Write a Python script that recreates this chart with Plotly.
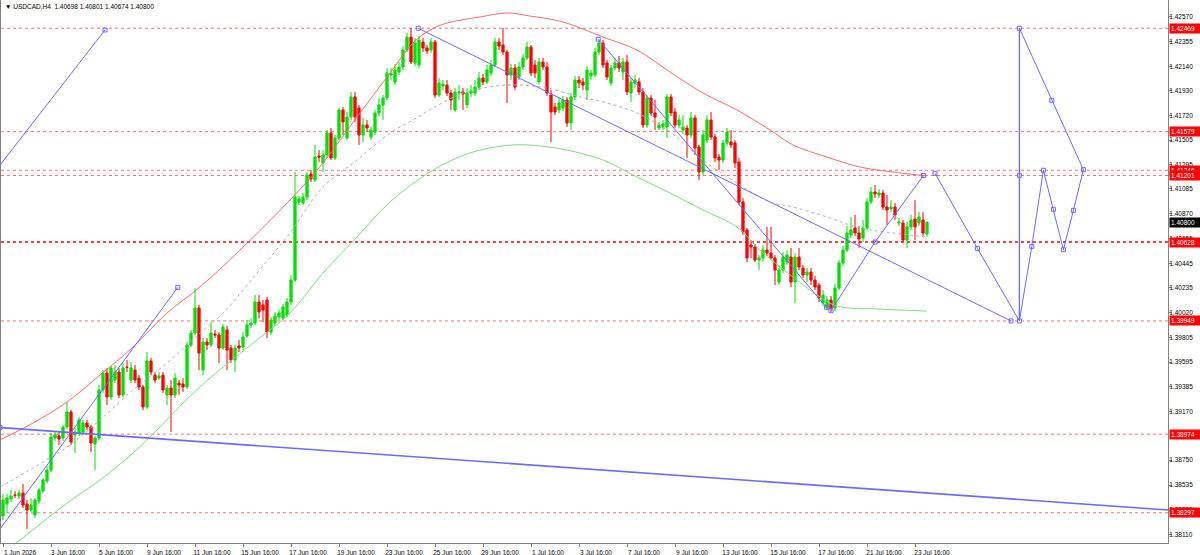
import plotly.graph_objects as go

# ---------------- data ----------------
bars = list(range(4, 236))  # H4 bar index, bar 0 = 1 Jun 2026 00:00

opens = [
    1.38269, 1.38373, 1.38416, 1.38450, 1.38441, 1.38467, 1.38373, 1.38321, 1.38278, 1.38398,
    1.38484, 1.38571, 1.38665, 1.38941, 1.38958, 1.38941, 1.39036, 1.39165, 1.38967, 1.38984,
    1.38992, 1.39070, 1.39036, 1.38889, 1.38941, 1.39354, 1.39500, 1.39294, 1.39440, 1.39509,
    1.39311, 1.39552, 1.39440, 1.39526, 1.39457, 1.39380, 1.39208, 1.39604, 1.39483, 1.39457,
    1.39483, 1.39311, 1.39371, 1.39311, 1.39414, 1.39406, 1.39380, 1.39742, 1.39845, 1.40060,
    1.39526, 1.39767, 1.39742, 1.39836, 1.39828, 1.39716, 1.39871, 1.39716, 1.39612, 1.39733,
    1.39724, 1.39819, 1.39914, 1.39931, 1.40112, 1.40086, 1.40129, 1.39853, 1.39931, 1.39983,
    1.39974, 1.40000, 1.40112, 1.40301, 1.40973, 1.40964, 1.41016, 1.41214, 1.41162, 1.41369,
    1.41309, 1.41377, 1.41567, 1.41352, 1.41524, 1.41765, 1.41524, 1.41705, 1.41877, 1.41782,
    1.41550, 1.41636, 1.41532, 1.41575, 1.41739, 1.41808, 1.41868, 1.42066, 1.42006, 1.42092,
    1.42135, 1.42281, 1.42393, 1.42170, 1.42152, 1.42350, 1.42299, 1.42281, 1.42350, 1.41894,
    1.41972, 1.41980, 1.41911, 1.41765, 1.41911, 1.41920, 1.41808, 1.41911, 1.41911, 1.41963,
    1.42040, 1.42006, 1.42083, 1.42152, 1.42350, 1.42325, 1.42264, 1.42066, 1.42127, 1.42049,
    1.42135, 1.42213, 1.42307, 1.42152, 1.42006, 1.42178, 1.42135, 1.41894, 1.41791, 1.41765,
    1.41782, 1.41851, 1.41653, 1.41877, 1.42023, 1.42006, 1.41937, 1.42058, 1.42066, 1.42264,
    1.42342, 1.42170, 1.41997, 1.42127, 1.42170, 1.42092, 1.42178, 1.41911, 1.41997, 1.42006,
    1.41920, 1.41636, 1.41868, 1.41739, 1.41610, 1.41619, 1.41619, 1.41877, 1.41748, 1.41636,
    1.41593, 1.41610, 1.41550, 1.41696, 1.41446, 1.41231, 1.41507, 1.41679, 1.41532, 1.41360,
    1.41334, 1.41481, 1.41489, 1.41481, 1.41317, 1.40973, 1.40732, 1.40603, 1.40585, 1.40473,
    1.40491, 1.40559, 1.40534, 1.40491, 1.40284, 1.40387, 1.40456, 1.40499, 1.40284, 1.40499,
    1.40405, 1.40344, 1.40370, 1.40301, 1.40258, 1.40103, 1.40060, 1.40129, 1.40060, 1.40232,
    1.40448, 1.40559, 1.40689, 1.40749, 1.40706, 1.40663, 1.40749, 1.40973, 1.41059, 1.41033,
    1.41050, 1.40930, 1.40913, 1.40930, 1.40792, 1.40792, 1.40646, 1.40758, 1.40826, 1.40792,
    1.40818, 1.40698,
]
highs = [
    1.38459, 1.38459, 1.38493, 1.38484, 1.38493, 1.38545, 1.38407, 1.38424, 1.38424, 1.38510,
    1.38596, 1.38700, 1.38984, 1.38992, 1.38992, 1.39053, 1.39251, 1.39182, 1.39027, 1.39122,
    1.39096, 1.39096, 1.39053, 1.38958, 1.39397, 1.39526, 1.39544, 1.39561, 1.39569, 1.39544,
    1.39595, 1.39612, 1.39595, 1.39569, 1.39483, 1.39397, 1.39681, 1.39630, 1.39509, 1.39509,
    1.39509, 1.39397, 1.39440, 1.39500, 1.39440, 1.39457, 1.39767, 1.39871, 1.40232, 1.40086,
    1.39802, 1.39802, 1.39940, 1.39871, 1.39853, 1.39922, 1.39905, 1.39742, 1.39742, 1.39785,
    1.39853, 1.39957, 1.39974, 1.40172, 1.40172, 1.40129, 1.40155, 1.39983, 1.40026, 1.40043,
    1.40095, 1.40146, 1.40344, 1.41231, 1.41024, 1.41050, 1.41231, 1.41248, 1.41464, 1.41420,
    1.41420, 1.41593, 1.41610, 1.41550, 1.41782, 1.41791, 1.41748, 1.41920, 1.41920, 1.41808,
    1.41696, 1.41679, 1.41619, 1.41765, 1.41868, 1.41894, 1.42127, 1.42127, 1.42161, 1.42178,
    1.42316, 1.42428, 1.42471, 1.42385, 1.42402, 1.42385, 1.42325, 1.42385, 1.42368, 1.42040,
    1.42023, 1.42023, 1.41937, 1.41954, 1.41980, 1.41954, 1.41954, 1.41980, 1.42023, 1.42092,
    1.42075, 1.42152, 1.42195, 1.42385, 1.42385, 1.42471, 1.42281, 1.42161, 1.42161, 1.42178,
    1.42247, 1.42350, 1.42325, 1.42195, 1.42213, 1.42213, 1.42178, 1.41937, 1.41825, 1.41868,
    1.41885, 1.41877, 1.41911, 1.42058, 1.42058, 1.42040, 1.42144, 1.42109, 1.42299, 1.42368,
    1.42368, 1.42195, 1.42152, 1.42213, 1.42230, 1.42213, 1.42238, 1.42040, 1.42066, 1.42040,
    1.41954, 1.41894, 1.41894, 1.41851, 1.41662, 1.41679, 1.41903, 1.41903, 1.41782, 1.41722,
    1.41722, 1.41636, 1.41748, 1.41722, 1.41464, 1.41593, 1.41722, 1.41748, 1.41558, 1.41386,
    1.41507, 1.41610, 1.41593, 1.41507, 1.41352, 1.41007, 1.40749, 1.40646, 1.40611, 1.40516,
    1.40603, 1.40758, 1.40758, 1.40516, 1.40430, 1.40542, 1.40559, 1.40577, 1.40534, 1.40577,
    1.40430, 1.40405, 1.40405, 1.40336, 1.40275, 1.40215, 1.40163, 1.40163, 1.40267, 1.40473,
    1.40594, 1.40766, 1.40844, 1.40861, 1.40766, 1.40818, 1.41007, 1.41102, 1.41119, 1.41085,
    1.41076, 1.41033, 1.40990, 1.40964, 1.40835, 1.40818, 1.40801, 1.40861, 1.40990, 1.40887,
    1.40887, 1.40801,
]
lows = [
    1.38235, 1.38295, 1.38390, 1.38424, 1.38416, 1.38338, 1.38157, 1.38304, 1.38252, 1.38373,
    1.38467, 1.38553, 1.38648, 1.38915, 1.38881, 1.38915, 1.39018, 1.38881, 1.38812, 1.38958,
    1.38967, 1.39010, 1.38820, 1.38665, 1.38924, 1.39328, 1.39225, 1.39268, 1.39414, 1.39285,
    1.39294, 1.39509, 1.39414, 1.39414, 1.39354, 1.39182, 1.39191, 1.39483, 1.39414, 1.39440,
    1.39328, 1.39225, 1.38992, 1.39285, 1.39311, 1.39337, 1.39363, 1.39724, 1.39828, 1.39526,
    1.39483, 1.39698, 1.39724, 1.39802, 1.39587, 1.39698, 1.39526, 1.39587, 1.39509, 1.39681,
    1.39698, 1.39802, 1.39888, 1.39914, 1.39974, 1.39940, 1.39802, 1.39828, 1.39905, 1.39957,
    1.39957, 1.39983, 1.40086, 1.40284, 1.40947, 1.40947, 1.40990, 1.41145, 1.41145, 1.41317,
    1.41231, 1.41352, 1.41334, 1.41334, 1.41507, 1.41550, 1.41507, 1.41679, 1.41662, 1.41464,
    1.41489, 1.41575, 1.41507, 1.41550, 1.41713, 1.41679, 1.41851, 1.42023, 1.41980, 1.42066,
    1.42109, 1.42264, 1.42161, 1.42144, 1.42127, 1.42264, 1.42247, 1.42256, 1.41868, 1.41877,
    1.41937, 1.41885, 1.41765, 1.41748, 1.41851, 1.41765, 1.41782, 1.41877, 1.41885, 1.41937,
    1.41980, 1.41989, 1.42058, 1.42135, 1.42281, 1.42238, 1.41825, 1.42023, 1.41937, 1.42023,
    1.42109, 1.42195, 1.42058, 1.42040, 1.41989, 1.42109, 1.41885, 1.41489, 1.41722, 1.41739,
    1.41756, 1.41619, 1.41593, 1.41851, 1.41954, 1.41937, 1.41851, 1.42023, 1.42049, 1.42238,
    1.42127, 1.42023, 1.41972, 1.42109, 1.42092, 1.42023, 1.41894, 1.41834, 1.41954, 1.41894,
    1.41610, 1.41610, 1.41713, 1.41593, 1.41593, 1.41593, 1.41524, 1.41713, 1.41610, 1.41610,
    1.41558, 1.41352, 1.41524, 1.41377, 1.41162, 1.41205, 1.41481, 1.41507, 1.41317, 1.41248,
    1.41309, 1.41455, 1.41438, 1.41266, 1.40947, 1.40689, 1.40456, 1.40491, 1.40456, 1.40387,
    1.40456, 1.40508, 1.40473, 1.40258, 1.40258, 1.40361, 1.40430, 1.40241, 1.40103, 1.40387,
    1.40318, 1.40284, 1.40258, 1.40215, 1.40112, 1.40077, 1.40043, 1.40026, 1.40034, 1.40215,
    1.40422, 1.40542, 1.40663, 1.40680, 1.40577, 1.40628, 1.40732, 1.40956, 1.41007, 1.41007,
    1.40904, 1.40775, 1.40887, 1.40818, 1.40766, 1.40628, 1.40577, 1.40732, 1.40646, 1.40766,
    1.40680, 1.40674,
]
closes = [
    1.38407, 1.38424, 1.38441, 1.38448, 1.38467, 1.38364, 1.38321, 1.38364, 1.38407, 1.38493,
    1.38579, 1.38665, 1.38949, 1.38967, 1.38932, 1.39036, 1.39165, 1.38906, 1.38992, 1.39096,
    1.39070, 1.39036, 1.38898, 1.38941, 1.39354, 1.39500, 1.39294, 1.39544, 1.39509, 1.39311,
    1.39544, 1.39550, 1.39544, 1.39440, 1.39380, 1.39208, 1.39604, 1.39509, 1.39440, 1.39475,
    1.39354, 1.39371, 1.39311, 1.39457, 1.39397, 1.39380, 1.39742, 1.39845, 1.40060, 1.39673,
    1.39767, 1.39742, 1.39845, 1.39828, 1.39716, 1.39897, 1.39698, 1.39612, 1.39716, 1.39716,
    1.39810, 1.39914, 1.39931, 1.40112, 1.40026, 1.40043, 1.39853, 1.39957, 1.39991, 1.40017,
    1.40069, 1.40112, 1.40301, 1.41016, 1.40999, 1.41016, 1.41205, 1.41171, 1.41360, 1.41358,
    1.41377, 1.41567, 1.41352, 1.41524, 1.41765, 1.41662, 1.41705, 1.41877, 1.41705, 1.41550,
    1.41636, 1.41610, 1.41593, 1.41739, 1.41808, 1.41868, 1.42083, 1.42080, 1.42109, 1.42135,
    1.42281, 1.42393, 1.42178, 1.42342, 1.42368, 1.42299, 1.42273, 1.42350, 1.41894, 1.41997,
    1.41989, 1.41911, 1.41851, 1.41920, 1.41918, 1.41903, 1.41911, 1.41928, 1.41963, 1.42040,
    1.42006, 1.42109, 1.42152, 1.42350, 1.42316, 1.42264, 1.42066, 1.42127, 1.41963, 1.42135,
    1.42213, 1.42307, 1.42083, 1.42083, 1.42178, 1.42135, 1.41911, 1.41748, 1.41748, 1.41825,
    1.41851, 1.41653, 1.41877, 1.42023, 1.41997, 1.41980, 1.42109, 1.42083, 1.42264, 1.42342,
    1.42152, 1.42049, 1.42127, 1.42170, 1.42127, 1.42178, 1.41920, 1.42006, 1.42023, 1.41920,
    1.41636, 1.41868, 1.41739, 1.41705, 1.41636, 1.41644, 1.41877, 1.41739, 1.41636, 1.41679,
    1.41619, 1.41550, 1.41696, 1.41438, 1.41231, 1.41550, 1.41679, 1.41532, 1.41352, 1.41334,
    1.41481, 1.41575, 1.41464, 1.41309, 1.40973, 1.40714, 1.40491, 1.40585, 1.40473, 1.40491,
    1.40559, 1.40534, 1.40491, 1.40387, 1.40387, 1.40499, 1.40516, 1.40284, 1.40499, 1.40413,
    1.40344, 1.40370, 1.40301, 1.40241, 1.40146, 1.40172, 1.40129, 1.40060, 1.40232, 1.40448,
    1.40559, 1.40706, 1.40732, 1.40706, 1.40654, 1.40749, 1.40973, 1.41059, 1.41042, 1.41050,
    1.40930, 1.40904, 1.40930, 1.40861, 1.40801, 1.40646, 1.40758, 1.40818, 1.40758, 1.40844,
    1.40706, 1.40800,
]

# band indicator (upper / middle / lower), read at sample bars
band_bars = [3.25, 11.5, 20, 28.25, 36.5, 45, 53.25, 63.25, 75.75, 84, 92.5, 100.75,
             106.5, 110.75, 115, 123.25, 130, 135.75, 144, 154, 162.5, 170.75, 179,
             187.5, 195.75, 201.5, 210, 218.25, 226.5, 235]
upper_band = [1.38924, 1.39070, 1.39251, 1.39483, 1.39724, 1.40017, 1.40241, 1.40559,
              1.40990, 1.41309, 1.41705, 1.42083, 1.42342, 1.42454, 1.42514, 1.42566,
              1.42600, 1.42574, 1.42523, 1.42393, 1.42281, 1.42092, 1.41911, 1.41765,
              1.41593, 1.41464, 1.41360, 1.41274, 1.41231, 1.41197]

mid_bars = [3.25, 11.5, 20, 28.25, 36.5, 45, 53.25, 59, 67.5, 75.75, 84, 92.5, 100.75,
            106.5, 111.5, 119, 127.5, 133.25, 140, 148.25, 154, 162.5, 170.75, 179,
            187.5, 195.75, 201.5, 210, 218.25, 226.5, 235]
mid_band = [1.38519, 1.38683, 1.38863, 1.39096, 1.39354, 1.39587, 1.39845, 1.40017,
            1.40361, 1.40706, 1.41102, 1.41334, 1.41567, 1.41679, 1.41782, 1.41911,
            1.41972, 1.41980, 1.41954, 1.41877, 1.41834, 1.41739, 1.41575, 1.41334,
            1.41136, 1.40973, 1.40930, 1.40844, 1.40749, 1.40706, 1.40671]

low_bars = [4, 8.25, 20, 28.25, 36.5, 43.25, 49, 55.75, 67.5, 75.75, 84, 92.5, 100.75,
            110.75, 117.5, 123.25, 131.5, 138.25, 145, 154, 162.5, 170.75, 179, 187.5,
            193.25, 201.5, 208.25, 212.5, 222.5, 235]
lower_band = [1.37960, 1.38063, 1.38381, 1.38579, 1.38812, 1.39036, 1.39242, 1.39457,
              1.39785, 1.40017, 1.40361, 1.40672, 1.40973, 1.41231, 1.41352, 1.41420,
              1.41464, 1.41455, 1.41420, 1.41334, 1.41188, 1.41050, 1.40904, 1.40758,
              1.40559, 1.40327, 1.40155, 1.40077, 1.40052, 1.40034]

# drawn objects (trend lines and projected zigzag)
line_a_bars, line_a_prices = [3.25, 29.5], [1.41291, 1.42454]
line_b_bars, line_b_prices = [3.25, 47.7], [1.38157, 1.40238]
line_c_bars, line_c_prices = [3.25, 295.25], [1.39031, 1.38321]
line_d_bars, line_d_prices = [107.8, 256], [1.42469, 1.39949]
leg_e_bars, leg_e_prices = [152.8, 209.9], [1.42374, 1.40066]
leg_f_bars, leg_f_prices = [211, 222, 234.1], [1.40037, 1.40628, 1.41201]
leg_g_bars, leg_g_prices = [237, 247.6, 258.1], [1.41220, 1.40574, 1.39949]
vert_bars, vert_prices = [258.1, 258.1, 258.1], [1.42469, 1.41203, 1.39949]
upper_leg_bars, upper_leg_prices = [258.1, 266.2, 274.1], [1.42469, 1.41848, 1.41251]
zz_bars = [258.1, 261.2, 264.1, 266.6, 269.1, 271.6, 274.1]
zz_prices = [1.39949, 1.40591, 1.41246, 1.40910, 1.40562, 1.40901, 1.41251]
point_bars = [29.5, 47.7, 3.25, 107.8, 256, 152.8, 209.9, 211, 222, 234.1, 237, 247.6,
              258.1, 258.1, 258.1, 266.2, 274.1, 261.2, 264.1, 266.6, 269.1, 271.6]
point_prices = [1.42454, 1.40238, 1.39031, 1.42469, 1.39949, 1.42374, 1.40066, 1.40037,
                1.40628, 1.41201, 1.41220, 1.40574, 1.39949, 1.42469, 1.41203, 1.41848,
                1.41251, 1.40591, 1.41246, 1.40910, 1.40562, 1.40901]

# horizontal levels
level_prices = [1.42469, 1.41579, 1.41246, 1.41201, 1.40628, 1.39949, 1.38974, 1.38297]
level_labels = ["1.42469", "1.41579", "1.41246", "1.41201", "1.40628", "1.39949", "1.38974", "1.38297"]
main_level = 1.40628
last_price, last_label = 1.40800, "1.40800"

# axes
x_tick_bars = [4, 16, 28, 40, 52, 64, 76, 88, 100, 112, 124, 136, 148, 160, 172, 184, 196, 208, 220, 232]
x_tick_text = ["1 Jun 2026", "3 Jun 16:00", "5 Jun 16:00", "9 Jun 16:00", "11 Jun 16:00",
               "15 Jun 16:00", "17 Jun 16:00", "19 Jun 16:00", "23 Jun 16:00", "25 Jun 16:00",
               "29 Jun 16:00", "1 Jul 16:00", "3 Jul 16:00", "7 Jul 16:00", "9 Jul 16:00",
               "13 Jul 16:00", "15 Jul 16:00", "17 Jul 16:00", "21 Jul 16:00", "23 Jul 16:00"]
y_tick_vals = [1.42570, 1.42355, 1.42140, 1.41930, 1.41720, 1.41505, 1.41295, 1.41085,
               1.40870, 1.40655, 1.40445, 1.40235, 1.40020, 1.39805, 1.39595, 1.39385,
               1.39170, 1.38750, 1.38535, 1.38320, 1.38110]
y_tick_text = ["%.5f" % v for v in y_tick_vals]
title_text = "\u25bc USDCAD,H4  1.40698 1.40801 1.40674 1.40800"

# ---------------- figure ----------------
FONT = "Liberation Sans, Arial, sans-serif"
FS = 6.5
BLUE = "#6a6aff"

fig = go.Figure()

fig.add_trace(go.Candlestick(
    x=bars, open=opens, high=highs, low=lows, close=closes,
    increasing=dict(line=dict(color="#00e000", width=1), fillcolor="#00e000"),
    decreasing=dict(line=dict(color="#ff0000", width=1), fillcolor="#ff0000"),
    whiskerwidth=0, hoverinfo="skip",
))

fig.add_trace(go.Scatter(x=band_bars, y=upper_band, mode="lines",
                         line=dict(color="#ff6a6a", width=1, shape="spline"), hoverinfo="skip"))
fig.add_trace(go.Scatter(x=mid_bars, y=mid_band, mode="lines",
                         line=dict(color="#b0b0b0", width=1, dash="dot", shape="spline"), hoverinfo="skip"))
fig.add_trace(go.Scatter(x=low_bars, y=lower_band, mode="lines",
                         line=dict(color="#7fdc7f", width=1, shape="spline"), hoverinfo="skip"))

for bx, py, w in [(line_a_bars, line_a_prices, 1), (line_b_bars, line_b_prices, 1),
                  (line_c_bars, line_c_prices, 1.6), (line_d_bars, line_d_prices, 1),
                  (leg_e_bars, leg_e_prices, 1), (leg_f_bars, leg_f_prices, 1),
                  (leg_g_bars, leg_g_prices, 1), (vert_bars, vert_prices, 1.3),
                  (upper_leg_bars, upper_leg_prices, 1), (zz_bars, zz_prices, 1)]:
    fig.add_trace(go.Scatter(x=bx, y=py, mode="lines", line=dict(color=BLUE, width=w),
                             hoverinfo="skip", cliponaxis=True))

fig.add_trace(go.Scatter(x=point_bars, y=point_prices, mode="markers",
                         marker=dict(symbol="square-open", size=4, color=BLUE, line=dict(width=1)),
                         hoverinfo="skip"))

shapes = []
for p in level_prices:
    strong = (p == main_level)
    shapes.append(dict(type="line", xref="paper", x0=0, x1=1, yref="y", y0=p, y1=p,
                       line=dict(color="#ff0000" if strong else "#ff7070",
                                 width=1.5 if strong else 1, dash="dot"), layer="below"))

annotations = []
for p, t in zip(level_prices, level_labels):
    annotations.append(dict(xref="paper", x=1, xanchor="left", xshift=1, yref="y", y=p,
                            text=t, showarrow=False, bgcolor="#ff0000", borderpad=1,
                            font=dict(family=FONT, size=FS, color="white"), width=28, align="left"))
annotations.append(dict(xref="paper", x=1, xanchor="left", xshift=1, yref="y", y=last_price,
                        text=last_label, showarrow=False, bgcolor="#000000", borderpad=1,
                        font=dict(family=FONT, size=FS, color="white"), width=28, align="left"))
annotations.append(dict(xref="paper", x=0, xanchor="left", xshift=2, yref="paper", y=1,
                        yanchor="top", yshift=-1, text=title_text, showarrow=False,
                        font=dict(family=FONT, size=FS, color="black")))

fig.update_layout(
    width=1200, height=555,
    margin=dict(l=1, r=32, t=0, b=12),
    paper_bgcolor="white", plot_bgcolor="white",
    showlegend=False, template="none",
    shapes=shapes, annotations=annotations,
    boxgap=0.2,
    font=dict(family=FONT, size=FS, color="black"),
    xaxis=dict(range=[3.5, 295.25], tickvals=x_tick_bars, ticktext=x_tick_text,
               ticks="outside", ticklen=3, tickcolor="#808080", showgrid=False, zeroline=False,
               showline=True, linecolor="#808080", linewidth=1, mirror=False,
               tickfont=dict(family=FONT, size=FS, color="black"), ticklabelshift=17,
               rangeslider=dict(visible=False), automargin=False, fixedrange=True),
    yaxis=dict(range=[1.38037, 1.42712], side="right", tickvals=y_tick_vals, ticktext=y_tick_text,
               ticks="outside", ticklen=3, tickcolor="#808080", showgrid=False, zeroline=False,
               showline=True, linecolor="#808080", linewidth=1, mirror=True,
               ticklabelstandoff=-4,
               tickfont=dict(family=FONT, size=FS, color="black"), automargin=False, fixedrange=True),
)

fig.write_html("out.html", config={"displayModeBar": False},
               post_script="document.body.style.margin='0';document.body.style.overflow='hidden';")
